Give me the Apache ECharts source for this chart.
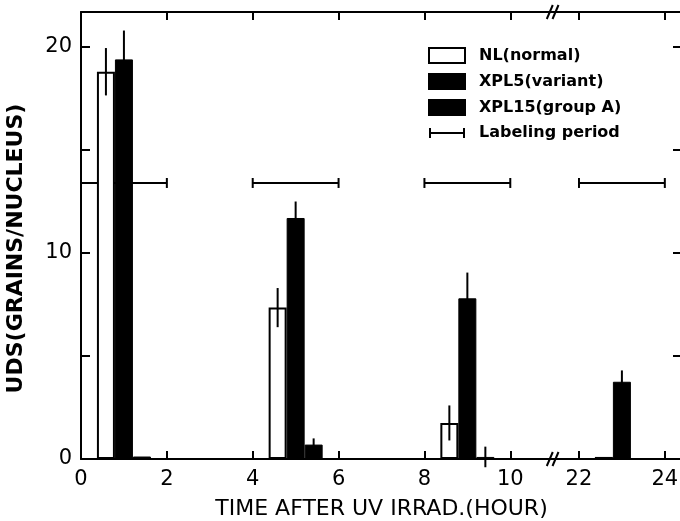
<!DOCTYPE html>
<html>
<head>
<meta charset="utf-8">
<script src="https://cdn.jsdelivr.net/npm/echarts@6.0.0/dist/echarts.min.js"></script>
<style>
html, body { margin: 0; padding: 0; background: #fff; }
#main { width: 680px; height: 521px; }
</style>
</head>
<body>
<div id="main"></div>
<script>
// time (hour after UV) of each bar group
var times = [1, 5, 9, 23];
var nlValues = [18.8, 7.35, 1.75, 0.1];
var nlErrors = [1.15, 0.95, 0.85, 0];
var xpl5Values = [19.4, 11.7, 7.8, 3.75];
var xpl5Errors = [1.4, 0.8, 1.25, 0.55];
var xpl15Values = [0.12, 0.7, 0.1, 0];
var xpl15Errors = [0, 0.3, 0.5, 0];
// labeling periods (hour)
var labelStart = [0, 4, 8, 22];
var labelEnd = [2, 6, 10, 24];
var labelLevel = 13.4;
var xTickLabels = [0, 2, 4, 6, 8, 10, 22, 24];
var yTickLabels = [0, 10, 20];

var FONT = 'DejaVu Sans';
var BAR_W = 18;
var X_BREAK = { start: 10, end: 22, gap: 1.6 };
var BREAK_MARKS = [16.9, 17.9];
var X_MAX = 24.4;
var Y_MAX = 21.7;

function pairs(vals, errs) {
    var out = [];
    for (var i = 0; i < times.length; i++) {
        out.push(errs ? [times[i], vals[i], errs[i]] : [times[i], vals[i]]);
    }
    return out;
}

function onList(v, list) {
    for (var i = 0; i < list.length; i++) {
        if (Math.abs(v - list[i]) < 1e-6) return true;
    }
    return false;
}

function xAxisCfg(pos, showLabel) {
    return {
        type: 'value',
        position: pos,
        min: 0,
        max: X_MAX,
        interval: 2,
        breaks: [{ start: X_BREAK.start, end: X_BREAK.end, gap: X_BREAK.gap }],
        breakArea: { show: false },
        axisLine: { onZero: false, lineStyle: { color: '#000', width: 2 } },
        axisTick: { inside: true, length: 8, lineStyle: { color: '#000', width: 2 } },
        axisLabel: {
            show: showLabel,
            color: '#000',
            fontFamily: FONT,
            fontSize: 21,
            margin: 10,
            formatter: function (v) { return onList(v, xTickLabels) ? String(v) : ''; }
        },
        splitLine: { show: false }
    };
}

function yAxisCfg(pos, showLabel) {
    return {
        type: 'value',
        position: pos,
        min: 0,
        max: Y_MAX,
        interval: 5,
        axisLine: { show: true, onZero: false, lineStyle: { color: '#000', width: 2 } },
        axisTick: { inside: true, length: 9, lineStyle: { color: '#000', width: 2 } },
        axisLabel: {
            show: showLabel,
            color: '#000',
            fontFamily: FONT,
            fontSize: 21,
            margin: 9,
            formatter: function (v) { return onList(v, yTickLabels) ? String(v) : ''; }
        },
        splitLine: { show: false }
    };
}

function errorBar(offset) {
    return function (params, api) {
        var x = api.value(0), v = api.value(1), e = api.value(2);
        if (!e) return null;
        var hi = api.coord([x, v + e]);
        var lo = api.coord([x, v - e]);
        return {
            type: 'line',
            shape: { x1: hi[0] + offset, y1: hi[1], x2: lo[0] + offset, y2: lo[1] },
            style: { stroke: '#000', lineWidth: 2 }
        };
    };
}

var labelData = [];
for (var i = 0; i < labelStart.length; i++) {
    labelData.push([labelStart[i], labelEnd[i], labelLevel]);
}

var chart = echarts.init(document.getElementById('main'));
var option = {
    backgroundColor: '#fff',
    animation: false,
    textStyle: { fontFamily: FONT, color: '#000' },
    grid: { left: 81, right: -2, top: 12, bottom: 62, outerBoundsMode: 'none' },
    legend: {
        orient: 'vertical',
        left: 423,
        top: 42,
        itemWidth: 36,
        itemHeight: 15,
        itemGap: 9,
        selectedMode: false,
        textStyle: { fontFamily: FONT, fontSize: 16, fontWeight: 'bold', color: '#000', padding: [0, 0, 0, 9] },
        data: [
            { name: 'NL(normal)', icon: 'rect' },
            { name: 'XPL5(variant)', icon: 'rect' },
            { name: 'XPL15(group A)', icon: 'rect' },
            { name: 'Labeling period', icon: 'path://M0,0H2V4H34V0H36V10H34V6H2V10H0Z' }
        ]
    },
    xAxis: [
        Object.assign(xAxisCfg('bottom', true), {
            name: 'TIME AFTER UV IRRAD.(HOUR)',
            nameLocation: 'middle',
            nameGap: 39,
            nameTextStyle: { fontFamily: FONT, fontSize: 22, color: '#000' }
        }),
        xAxisCfg('top', false)
    ],
    yAxis: [
        Object.assign(yAxisCfg('left', true), {
            name: 'UDS(GRAINS/NUCLEUS)',
            nameLocation: 'middle',
            nameGap: 54,
            nameTextStyle: { fontFamily: FONT, fontSize: 22, fontWeight: 'bold', color: '#000', padding: [0, 26, 0, 0] }
        }),
        yAxisCfg('right', false)
    ],
    series: [
        {
            name: 'NL(normal)', type: 'bar', barWidth: BAR_W, barGap: '0%',
            itemStyle: { color: '#fff', borderColor: '#000', borderWidth: 2 },
            data: pairs(nlValues)
        },
        {
            name: 'XPL5(variant)', type: 'bar', barWidth: BAR_W, barGap: '0%',
            itemStyle: { color: '#000', borderColor: '#000', borderWidth: 1 },
            data: pairs(xpl5Values)
        },
        {
            name: 'XPL15(group A)', type: 'bar', barWidth: BAR_W, barGap: '0%',
            itemStyle: { color: '#000', borderColor: '#000', borderWidth: 1 },
            data: pairs(xpl15Values)
        },
        { type: 'custom', renderItem: errorBar(-BAR_W), data: pairs(nlValues, nlErrors), z: 5 },
        { type: 'custom', renderItem: errorBar(0), data: pairs(xpl5Values, xpl5Errors), z: 5 },
        { type: 'custom', renderItem: errorBar(BAR_W), data: pairs(xpl15Values, xpl15Errors), z: 5 },
        {
            name: 'Labeling period',
            type: 'custom',
            itemStyle: { color: '#000' },
            data: labelData,
            renderItem: function (params, api) {
                var a = api.coord([api.value(0), api.value(2)]);
                var b = api.coord([api.value(1), api.value(2)]);
                var st = { stroke: '#000', lineWidth: 2 };
                return {
                    type: 'group',
                    children: [
                        { type: 'line', shape: { x1: a[0], y1: a[1], x2: b[0], y2: b[1] }, style: st },
                        { type: 'line', shape: { x1: a[0], y1: a[1] - 5, x2: a[0], y2: a[1] + 5 }, style: st },
                        { type: 'line', shape: { x1: b[0], y1: b[1] - 5, x2: b[0], y2: b[1] + 5 }, style: st }
                    ]
                };
            }
        },
        {
            // axis line through the break, with "//" marks
            type: 'custom',
            data: [[0], [Y_MAX]],
            z: 10,
            renderItem: function (params, api) {
                var y = api.value(0);
                var st = { stroke: '#000', lineWidth: 2 };
                var a = api.coord([X_BREAK.start, y]);
                var b = api.coord([X_BREAK.end, y]);
                var kids = [{ type: 'line', shape: { x1: a[0], y1: a[1], x2: b[0], y2: b[1] }, style: st }];
                for (var k = 0; k < BREAK_MARKS.length; k++) {
                    var p = api.coord([BREAK_MARKS[k], y]);
                    kids.push({ type: 'line', shape: { x1: p[0] - 3, y1: p[1] + 7, x2: p[0] + 3, y2: p[1] - 7 }, style: st });
                }
                return { type: 'group', children: kids };
            }
        }
    ]
};
chart.setOption(option);
</script>
</body>
</html>
